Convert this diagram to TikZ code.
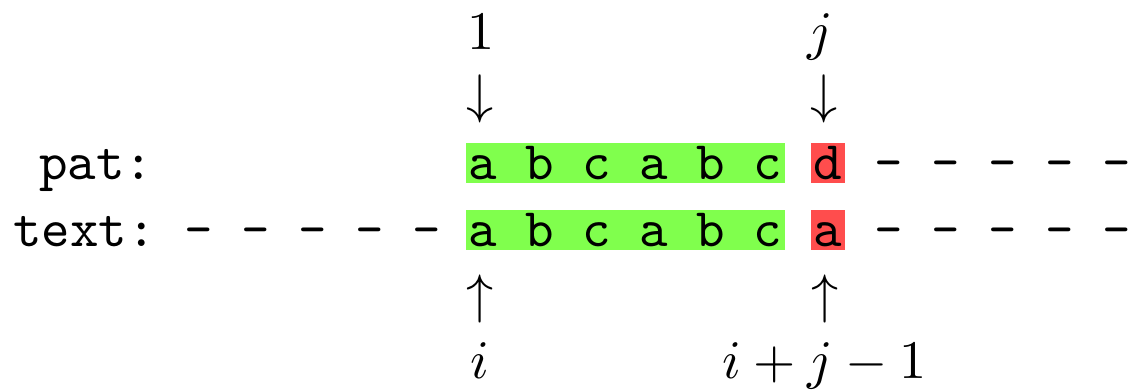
\documentclass[tikz,border=0pt]{standalone}
\definecolor{okgreen}{RGB}{128,255,77}
\definecolor{badred}{RGB}{255,77,77}
\begin{document}
\begin{tikzpicture}[x=0.18416pt,y=-0.18416pt,
  tt/.style={font=\ttfamily, inner sep=0pt, anchor=base west},
  cell/.style={font=\ttfamily, inner xsep=0.5pt, inner ysep=0pt, text height=6.63pt, text depth=0.74pt},
  okcell/.style={cell, fill=okgreen},
  badcell/.style={cell, fill=badred},
  lbl/.style={inner sep=0pt, anchor=base}]
\useasboundingbox (0,0) rectangle (1131,389);
% row labels
\node[tt, anchor=base east] (patlbl) at (154.25,179) {pat:};
\node[tt] (textlbl) at (12,246) {text:};
% text row left dashes
\node[tt] (tleft) at (183,246) {- - - - -};
% matched parts
\node[okcell, anchor=base west] (pmatch) at (465,179) {a b c a b c};
\node[okcell, anchor=base west] (tmatch) at (465,246) {a b c a b c};
% mismatch
\node[badcell, anchor=base] (pbad) at (828,179) {d};
\node[badcell, anchor=base] (tbad) at (828,246) {a};
% right dashes
\node[tt] (pright) at (873,179) {- - - - -};
\node[tt] (tright) at (873,246) {- - - - -};
% top labels
\node[lbl] (one) at (481,49) {$1$};
\node[lbl] (darr1) at (480,112.5) {$\downarrow$};
\node[lbl] (jlbl) at (820,49) {$j$};
\node[lbl] (darr2) at (824,112.5) {$\downarrow$};
% bottom labels
\node[lbl] (uarr1) at (480,312.5) {$\uparrow$};
\node[lbl] (ilbl) at (480,378) {$i$};
\node[lbl] (uarr2) at (825,312.5) {$\uparrow$};
\node[lbl] (ijlbl) at (824.5,378) {$i+j-1$};
\end{tikzpicture}
\end{document}
